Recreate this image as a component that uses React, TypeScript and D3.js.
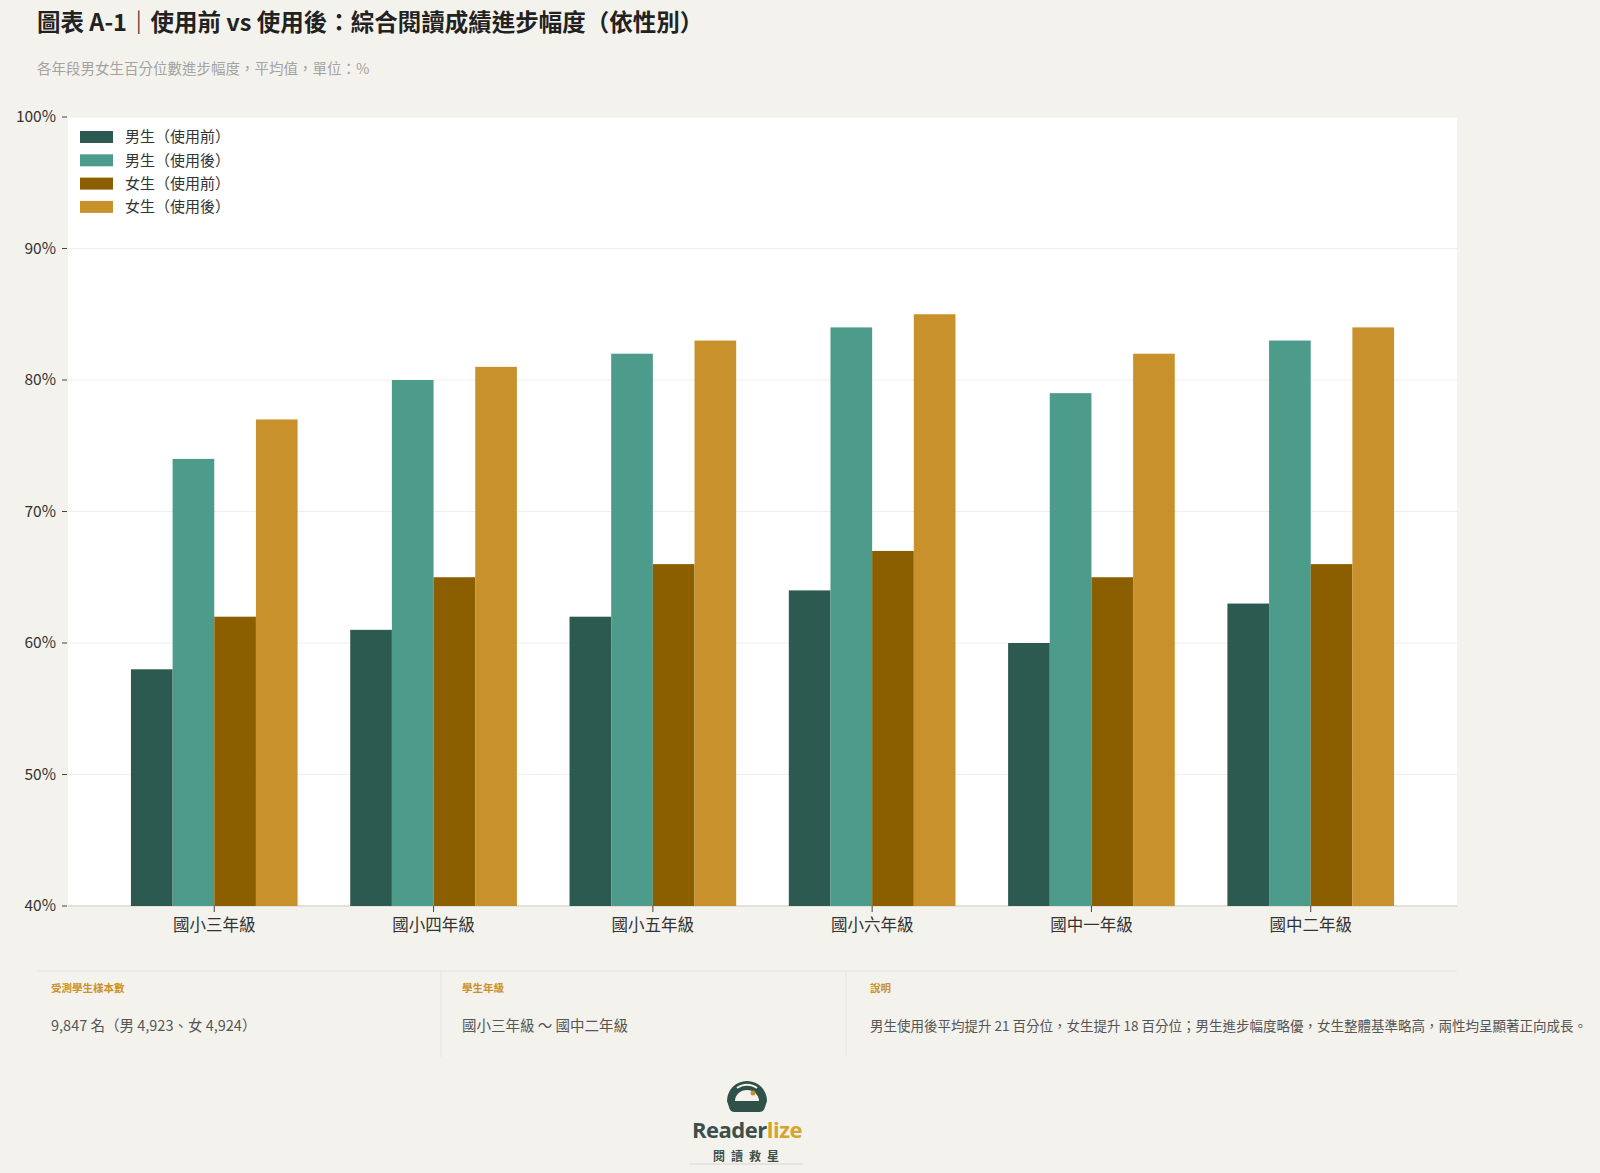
import React from "react";
import * as d3 from "d3";

const categories = ["國小三年級", "國小四年級", "國小五年級", "國小六年級", "國中一年級", "國中二年級"];
const seriesNames = ["男生（使用前）", "男生（使用後）", "女生（使用前）", "女生（使用後）"];
const boysBefore = [58, 61, 62, 64, 60, 63];
const boysAfter = [74, 80, 82, 84, 79, 83];
const girlsBefore = [62, 65, 66, 67, 65, 66];
const girlsAfter = [77, 81, 83, 85, 82, 84];
const seriesColors = ["#2d5a50", "#4d9b8a", "#8b5e00", "#c9912c"];
const yTicks = [40, 50, 60, 70, 80, 90, 100];

const footerLabels = ["受測學生樣本數", "學生年級", "說明"];
const footerValues = [
  "9,847 名（男 4,923、女 4,924）",
  "國小三年級 ～ 國中二年級",
  "男生使用後平均提升 21 百分位，女生提升 18 百分位；男生進步幅度略優，女生整體基準略高，兩性均呈顯著正向成長。",
];

const FONT = "'Noto Sans CJK TC', 'Noto Sans', sans-serif";

export default function App() {
  const W = 1600, H = 1173;
  const left = 68, right = 1457, top = 117, bottom = 906;
  const series = [boysBefore, boysAfter, girlsBefore, girlsAfter];

  const x0 = d3.scaleBand<string>().domain(categories).range([left, right]).paddingInner(0.24).paddingOuter(0.287);
  const x1 = d3.scaleBand<number>().domain(d3.range(series.length)).range([0, x0.bandwidth()]).padding(0);
  const y = d3.scaleLinear().domain([40, 100]).range([bottom, top]);

  const dividers = [441, 846];
  const footerTextX = [51, 462, 870];
  const footerEnd = 1457;

  return (
    <div style={{ position: "absolute", left: 0, top: 0, width: W, height: H, background: "#f4f2ed" }}>
      <svg width={W} height={H} style={{ display: "block", fontFamily: FONT }}>
        <rect x={0} y={0} width={W} height={H} fill="#f4f2ed" />
        <text x={37} y={31} fontSize={23.5} fontWeight={700} fill="#222">
          圖表 A-1｜使用前 vs 使用後：綜合閱讀成績進步幅度（依性別）
        </text>
        <text x={37} y={74} fontSize={14.5} fill="#a3a3a3">
          各年段男女生百分位數進步幅度，平均值，單位：%
        </text>

        <rect x={left} y={top} width={right - left} height={bottom - top} fill="#ffffff" />
        {yTicks.map((t) => (
          <g key={t}>
            <line x1={left} x2={right} y1={y(t)} y2={y(t)} stroke={t === 40 ? "#e2e0db" : "#efeeea"} strokeWidth={t === 40 ? 2 : 1} />
            <line x1={62} x2={67} y1={y(t)} y2={y(t)} stroke="#444" strokeWidth={1} />
            <text x={56} y={y(t)} dy="0.35em" textAnchor="end" fontSize={15.5} fill="#333">
              {t}%
            </text>
          </g>
        ))}

        {categories.map((c, i) => (
          <g key={c} transform={`translate(${x0(c)},0)`}>
            {series.map((s, k) => (
              <rect
                key={k}
                x={x1(k)}
                y={y(s[i])}
                width={x1.bandwidth()}
                height={y(40) - y(s[i])}
                fill={seriesColors[k]}
              />
            ))}
          </g>
        ))}

        {categories.map((c) => {
          const cx = (x0(c) as number) + x0.bandwidth() / 2;
          return (
            <g key={c}>
              <line x1={cx} x2={cx} y1={bottom} y2={bottom + 6} stroke="#444" strokeWidth={1} />
              <text x={cx} y={925} dy="0.35em" textAnchor="middle" fontSize={16.5} fill="#333">
                {c}
              </text>
            </g>
          );
        })}

        {seriesNames.map((n, k) => (
          <g key={n} transform={`translate(80,${137 + k * 23.3})`}>
            <rect x={0} y={-6} width={33} height={12} fill={seriesColors[k]} />
            <text x={45} y={0} dy="0.35em" fontSize={15} fill="#333">
              {n}
            </text>
          </g>
        ))}

        <line x1={37} x2={footerEnd} y1={971} y2={971} stroke="#e6e4df" strokeWidth={1} />
        {dividers.map((fx) => (
          <line key={fx} x1={fx} x2={fx} y1={971} y2={1057} stroke="#e6e4df" strokeWidth={1} />
        ))}
        {footerLabels.map((l, i) => (
          <g key={l}>
            <text x={footerTextX[i]} y={988} dy="0.35em" fontSize={10.5} fontWeight={700} fill="#c9912c">
              {l}
            </text>
            <text x={footerTextX[i]} y={1026} dy="0.35em" fontSize={i === 2 ? 13.5 : 14.5} fill="#555">
              {footerValues[i]}
            </text>
          </g>
        ))}

        <g transform="translate(747,1099)">
          <path d="M-20,2 A20,20 0 1,1 20,2 L18,8 A6,6 0 0,1 12,13 L-12,13 A6,6 0 0,1 -18,8 Z" fill="#2f5149" />
          <path d="M-12,2 A12,11 0 0,1 12,2 Z" fill="#f4f2ed" />
          <path d="M-10,-11 A15,13 0 0,1 10,-11" fill="none" stroke="#f4f2ed" strokeWidth={2} />
          <circle cx={6} cy={-6} r={2.5} fill="#c9912c" />
        </g>
        <text x={747} y={1138} textAnchor="middle" fontSize={22} fontWeight={700} fontFamily="'Open Sans', 'Noto Sans', sans-serif" letterSpacing={-0.5}>
          <tspan fill="#3c4f4a">Reader</tspan>
          <tspan fill="#d4a52e">lize</tspan>
        </text>
        <text x={749} y={1157} dy="0.35em" textAnchor="middle" fontSize={12} fontWeight={700} fill="#3c4f4a" letterSpacing={6}>
          閱讀救星
        </text>
        <line x1={690} x2={803} y1={1164} y2={1164} stroke="#d8d6d0" strokeWidth={1} />
      </svg>
    </div>
  );
}
